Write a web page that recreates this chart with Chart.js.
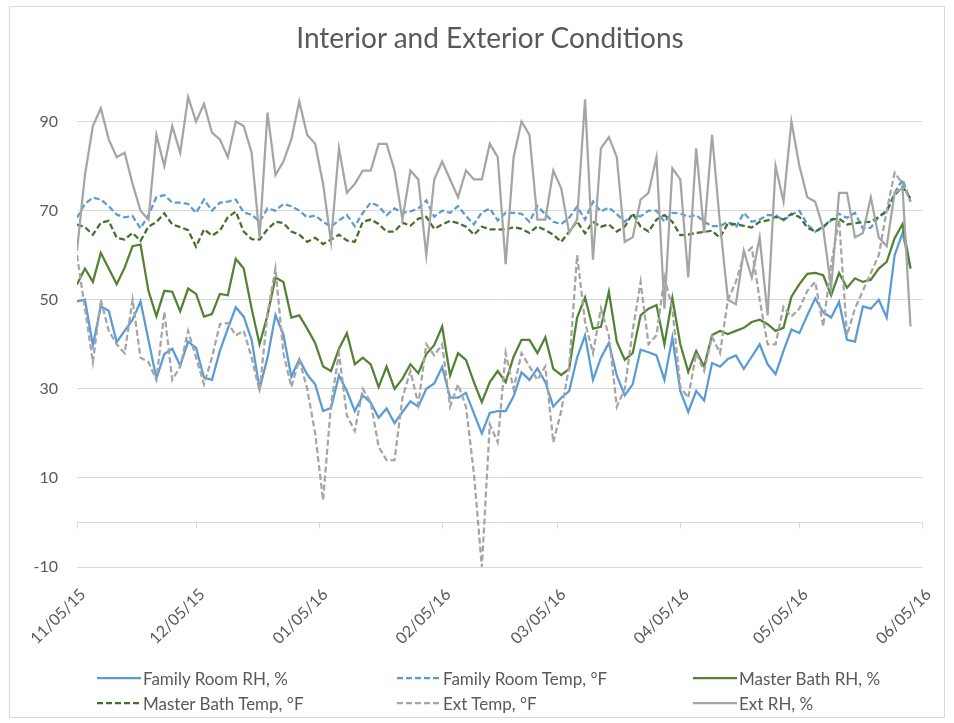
<!DOCTYPE html>
<html>
<head>
<meta charset="utf-8">
<script src="https://cdn.jsdelivr.net/npm/chart.js@4.4.0/dist/chart.umd.min.js"></script>
<style>
  body { margin: 0; background: #fff; }
  #wrap { position: relative; width: 954px; height: 723px; }
  #frame { position: absolute; left: 9px; top: 6px; width: 936px; height: 712px; border: 1px solid #d9d9d9; box-sizing: border-box; }
  canvas { position: absolute; left: 0; top: 0; }
  #title { position: absolute; left: 0; top: 20px; width: 980px; text-align: center; font: 28px/34px Lato, sans-serif; color: #595959; }
  #legend { position: absolute; left: 97px; top: 668px; display: grid; grid-template-columns: 300px 296px auto; row-gap: 5px; font: 17px Lato, sans-serif; color: #595959; }
  .item { display: flex; align-items: center; height: 20px; white-space: nowrap; }
  .item svg { margin-right: 2px; }
</style>
</head>
<body>
<div id="wrap">
  <div id="frame"></div>
  <canvas id="chart" width="954" height="723"></canvas>
  <div id="title">Interior and Exterior Conditions</div>
  <div id="legend"></div>
</div>
<script>
// readings every 2 days, starting 11/05/15
const stepDays = 2;
const monthLabels = ['11/05/15', '12/05/15', '01/05/16', '02/05/16', '03/05/16', '04/05/16', '05/05/16', '06/05/16'];
const monthDays = [0, 30, 61, 92, 121, 152, 182, 213];
const yTicks = [-10, 0, 10, 30, 50, 70, 90];

const famRH = [
  49.6, 50, 39.8, 48.5, 47.5, 40.5, 43, 45.5, 49.6, 41,
  32.3, 37.8, 39, 35.2, 40.6, 39.2, 32.5, 32, 38.5, 43.5,
  48.3, 46.2, 41, 30, 37, 46.6, 42.2, 32.7, 36.6, 33.2,
  31, 25, 25.7, 33, 29.5, 25, 28.5, 26.9, 23.5, 25.6,
  22.3, 24.8, 27.2, 26, 30, 31.2, 34.9, 28, 28, 29.1,
  24.5, 20, 24.6, 25, 25, 28.3, 33.7, 32, 34.6, 31.5,
  26, 28, 29.5, 37, 42, 32, 37, 40.3, 33, 28.5,
  31, 38.8, 38.2, 37.5, 32, 41.5, 29.5, 24.8, 29.5, 27.4,
  35.8, 35, 36.7, 37.5, 34.5, 37.2, 40, 35.5, 33.3, 38.5,
  43.3, 42.5, 46.5, 50.3, 47.2, 46, 49.5, 41, 40.6, 48.5,
  48, 50, 46, 60, 65, 57
];
const famTemp = [
  68.4, 71.5, 72.9, 72.5, 71, 69.1, 68.5, 68.8, 66, 69,
  73, 73.5, 71.8, 71.8, 71.5, 69.5, 72.5, 70, 71.8, 72,
  72.5, 69.6, 69.1, 67.5, 70.5, 70, 71.5, 71, 70, 68.5,
  68.9, 67.5, 66.4, 67.8, 69, 66.5, 69.5, 71.8, 71, 69,
  70.5, 69.5, 69.8, 70.5, 72.3, 68.6, 70, 69.5, 71, 68.8,
  66.9, 69.6, 70.5, 67.8, 69.5, 69.5, 69.3, 67.5, 71, 69.2,
  67.5, 67, 68.4, 70.9, 68, 72, 69.8, 70.7, 69.2, 67.5,
  69, 68.7, 70, 70, 67.5, 69.5, 69.4, 68.6, 69, 67.5,
  66.5, 66.5, 67.5, 66.2, 69.5, 67.5, 68, 69, 69, 67.8,
  69.1, 70, 66.9, 65.3, 66.2, 67.8, 69.3, 68.4, 69.5, 66,
  66.2, 68.6, 70, 74, 77, 72
];
const bathRH = [
  53.4, 57, 54, 60.5, 57, 53.5, 57.2, 62, 62.4, 52,
  46.3, 52, 51.8, 47.4, 52.5, 51.3, 46.2, 46.8, 51.3, 51,
  59.2, 57, 48, 40, 46.5, 55, 54, 46, 46.5, 43.5,
  40.3, 35, 34, 39, 42.5, 35.5, 37, 35.5, 30.4, 35,
  30, 32.3, 35.5, 33.5, 37.8, 39.8, 44, 33, 38, 36.5,
  31.5, 27, 31.5, 34, 31.5, 37.2, 41, 41, 38, 41.6,
  34.5, 33.1, 34.5, 46, 50.5, 43.5, 43.9, 51.8, 40.6, 36.5,
  38, 46.5, 48, 48.8, 40, 50.4, 40, 33.8, 38.5, 35,
  42.1, 43, 42.3, 43, 43.7, 45, 45.5, 44.5, 43, 43.7,
  50.7, 53.5, 55.8, 56, 55.5, 51, 56, 52.7, 54.8, 54,
  54.5, 57, 58.5, 63.8, 67, 57
];
const bathTemp = [
  66.9, 66.3, 64.6, 67.3, 67.7, 63.9, 63.5, 65, 63.2, 66.4,
  67.4, 69.4, 66.9, 66.3, 65.6, 61.9, 65.8, 64.4, 65.5, 68.5,
  69.8, 65.3, 63.6, 63.5, 65.8, 67.5, 67.2, 65.3, 64.6, 63,
  63.9, 62.5, 63.5, 64.6, 63.3, 63, 67.5, 68, 67, 65.3,
  65.3, 67.3, 66.6, 68.2, 68.6, 65.9, 66.9, 67.7, 67.2, 66.4,
  64.6, 66.4, 65.8, 65.8, 65.7, 66.3, 65.9, 65, 66.5, 65.6,
  64.6, 63, 65.3, 67.6, 64.9, 67.5, 66.4, 66.9, 65.3, 66.4,
  69.4, 66.4, 65.3, 68, 69, 67.5, 64.5, 64.6, 65, 65.2,
  65.5, 63.9, 67.2, 66.9, 66.6, 66.2, 67.5, 67.8, 68.6, 68,
  69.3, 68.6, 66.2, 65.3, 66.4, 68, 68.2, 66.9, 67.2, 67.4,
  67.5, 68.6, 69.8, 73.5, 75.4, 72.7
];
const extTemp = [
  60, 48, 36, 50, 43, 40, 38, 50, 37, 36,
  32, 47.3, 32, 35, 43, 37, 31, 37, 44.5, 44.8,
  42, 43, 37, 29.5, 47, 57, 38, 30.4, 36.5, 30,
  20, 5, 26.5, 38, 24, 20.5, 30, 27, 17, 14,
  14, 28, 34, 26.5, 40, 37.5, 40, 26, 31, 26,
  11, -10, 22, 18, 38, 30, 38, 35, 32, 35,
  18, 25, 35, 60, 45, 38, 48, 42, 26, 30,
  43, 54, 40, 42, 55, 48, 30.4, 28, 38, 34,
  41.7, 38, 50, 54, 60, 61.7, 50, 40, 40, 48.4,
  46.2, 48, 52, 54, 44, 58, 68, 42, 48, 52,
  56, 60, 70, 78.5, 76, 72
];
const extRH = [
  61, 78, 89, 93, 86, 82, 83, 76, 70, 68,
  87, 80, 89, 83, 95.5, 90, 94, 87.5, 86, 82,
  90, 89, 83, 64, 92, 78, 81, 86, 94.5, 87,
  85, 76, 63, 84, 74, 76, 79, 79, 85, 85,
  79, 68, 79, 77, 60, 77, 81, 77, 73, 79,
  77, 77, 85, 82, 58, 82, 90, 87, 68, 68,
  79, 75, 65, 68, 95, 59, 84, 86.5, 82, 63,
  64, 72.5, 74, 82, 48, 79.5, 77, 55, 84, 65,
  87, 67, 50, 49, 61, 55, 64, 46.5, 80, 72,
  90, 80, 73, 72, 66, 52.7, 74, 74, 64, 65,
  73, 64, 62, 74, 75, 44
];

const days = famRH.map((v, i) => i * stepDays);

function series(label, values, color, dash, order) {
  return {
    label: label,
    data: values.map((v, i) => ({ x: days[i], y: v })),
    borderColor: color,
    backgroundColor: color,
    borderWidth: 2.25,
    borderDash: dash,
    pointRadius: 0,
    tension: 0,
    order: order
  };
}

// small tick marks on the zero line, like the Excel category axis
const zeroAxisTicks = {
  id: 'zeroAxisTicks',
  beforeDatasetsDraw(chart) {
    const { ctx, scales: { x, y } } = chart;
    const y0 = Math.round(y.getPixelForValue(0)) + 0.5;
    ctx.save();
    ctx.strokeStyle = '#d9d9d9';
    ctx.lineWidth = 1;
    x.ticks.forEach(t => {
      const px = Math.round(x.getPixelForValue(t.value)) + 0.5;
      ctx.beginPath();
      ctx.moveTo(px, y0);
      ctx.lineTo(px, y0 + 6);
      ctx.stroke();
    });
    ctx.restore();
  }
};

Chart.defaults.font.family = 'Lato, sans-serif';
Chart.defaults.color = '#595959';

const chart = new Chart(document.getElementById('chart'), {
  type: 'line',
  data: {
    datasets: [
      series('Family Room RH, %', famRH, '#5B9BD5', [], 5),
      series('Family Room Temp, °F', famTemp, '#5B9BD5', [6, 3], 4),
      series('Master Bath RH, %', bathRH, '#548235', [], 3),
      series('Master Bath Temp, °F', bathTemp, '#43712b', [6, 3], 2),
      series('Ext Temp, °F', extTemp, '#A5A5A5', [6, 3], 1),
      series('Ext RH, %', extRH, '#A5A5A5', [], 0)
    ]
  },
  options: {
    responsive: false,
    animation: false,
    layout: { padding: { left: 20, right: 26, top: 77, bottom: 56 } },
    plugins: {
      legend: { display: false },
      tooltip: { enabled: false }
    },
    scales: {
      x: {
        type: 'linear',
        min: 0,
        max: 213,
        grid: { display: false, drawTicks: false },
        border: { display: false },
        afterBuildTicks: s => { s.ticks = monthDays.map(v => ({ value: v })); },
        afterFit: s => { s.height = 100; },
        ticks: {
          autoSkip: false,
          minRotation: 45,
          maxRotation: 45,
          color: '#595959',
          font: { size: 16 },
          padding: 18,
          labelOffset: 6,
          callback: (v, i) => monthLabels[i]
        }
      },
      y: {
        min: -10,
        max: 100,
        afterBuildTicks: s => { s.ticks = yTicks.map(v => ({ value: v })); },
        afterFit: s => { s.width = 57; },
        grid: { color: '#d9d9d9', drawTicks: false },
        border: { display: false },
        ticks: {
          color: '#595959',
          font: { size: 16 },
          padding: 19,
          callback: v => (v === 0 ? '' : v)
        }
      }
    }
  },
  plugins: [zeroAxisTicks]
});

// legend laid out in three fixed columns
const legendEl = document.getElementById('legend');
chart.data.datasets.forEach(ds => {
  const item = document.createElement('div');
  item.className = 'item';
  const dash = ds.borderDash.length ? ` stroke-dasharray="${ds.borderDash.join(' ')}"` : '';
  item.innerHTML = `<svg width="44" height="4"><line x1="0" y1="2" x2="44" y2="2" stroke="${ds.borderColor}" stroke-width="2.25"${dash}/></svg><span>${ds.label}</span>`;
  legendEl.appendChild(item);
});
</script>
</body>
</html>
